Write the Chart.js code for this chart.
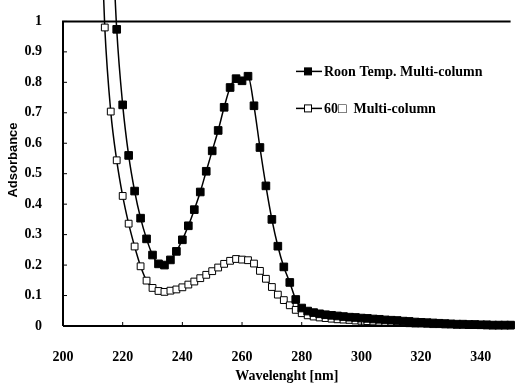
<!DOCTYPE html>
<html>
<head>
<meta charset="utf-8">
<script src="https://cdn.jsdelivr.net/npm/chart.js@4"></script>
<style>
  html, body { margin: 0; padding: 0; background: #fff; }
  #wrap { width: 517px; height: 383px; }
</style>
</head>
<body>
<div id="wrap"><canvas id="absChart" width="517" height="383"></canvas></div>
<script>
// Wavelength grid [nm]
const wavelengths = [212,214,216,218,220,222,224,226,228,230,232,234,236,238,240,242,244,246,248,250,
    252,254,256,258,260,262,264,266,268,270,272,274,276,278,280,282,284,286,288,290,
    292,294,296,298,300,302,304,306,308,310,312,314,316,318,320,322,324,326,328,330,
    332,334,336,338,340,342,344,346,348,350];

// Room temperature multi-column (filled squares)
const roomTemp = [null,null,1.40,0.974,0.726,0.56,0.443,0.354,0.286,0.233,0.204,0.200,0.217,0.245,0.283,0.329,0.382,0.44,0.508,0.575,
    0.642,0.718,0.783,0.812,0.805,0.82,0.723,0.586,0.46,0.35,0.262,0.194,0.143,0.087,0.059,0.049,0.044,0.040,0.037,0.035,
    0.033,0.031,0.029,0.028,0.026,0.025,0.023,0.022,0.020,0.019,0.018,0.016,0.015,0.013,0.012,0.011,0.010,0.009,0.008,0.007,
    0.006,0.006,0.005,0.005,0.004,0.004,0.003,0.003,0.003,0.003];

// 60 deg multi-column (open squares)
const hot60 = [1.5,0.98,0.704,0.544,0.427,0.336,0.261,0.196,0.149,0.125,0.115,0.112,0.116,0.12,0.127,0.136,0.146,0.157,0.168,0.18,
    0.192,0.204,0.214,0.22,0.218,0.216,0.205,0.181,0.155,0.128,0.103,0.085,0.068,0.053,0.042,0.035,0.031,0.028,0.026,0.024,
    0.022,0.021,0.020,0.018,0.017,0.016,0.015,0.014,0.013,0.012,0.011,0.010,0.009,0.008,0.008,0.007,0.006,0.006,0.005,0.005,
    0.004,0.004,0.003,0.003,0.003,0.002,0.002,0.002,0.002,0.002];

const seriesLabels = ['Roon Temp. Multi-column', '60\u25A1  Multi-column'];
const xTitle = 'Wavelenght [nm]';
const yTitle = 'Adsorbance';

const toPoints = vals => wavelengths.map((w, i) => ({ x: w, y: vals[i] })).filter(p => p.y !== null);

const serif = "'Liberation Serif', 'Times New Roman', serif";

// frame, inward ticks, legend and axis titles
const decorPlugin = {
    id: 'decor',
    afterDatasetsDraw(chart) {
        const { ctx, chartArea: a, scales } = chart;
        ctx.save();
        ctx.strokeStyle = '#000';
        ctx.lineWidth = 2;
        ctx.beginPath();
        ctx.moveTo(a.left, a.bottom);
        ctx.lineTo(a.left, a.top);
        ctx.lineTo(a.right, a.top);
        ctx.moveTo(a.left, a.bottom);
        ctx.lineTo(a.right, a.bottom);
        ctx.stroke();

        ctx.lineWidth = 1;
        ctx.beginPath();
        scales.y.ticks.forEach(t => {
            const y = scales.y.getPixelForValue(t.value);
            ctx.moveTo(a.left, y); ctx.lineTo(a.left + 4, y);
        });
        scales.x.ticks.forEach(t => {
            const x = scales.x.getPixelForValue(t.value);
            ctx.moveTo(x, a.bottom); ctx.lineTo(x, a.bottom - 4);
        });
        ctx.stroke();

        // legend
        chart.data.datasets.forEach((ds, i) => {
            const y = a.top + 50 + i * 37;
            const lx = a.left + 233;
            ctx.lineWidth = 1.5;
            ctx.beginPath();
            ctx.moveTo(lx, y); ctx.lineTo(lx + 26, y);
            ctx.stroke();
            ctx.fillStyle = ds.pointBackgroundColor;
            ctx.lineWidth = 1;
            ctx.fillRect(lx + 8.5, y - 3.5, 7, 7);
            ctx.strokeRect(lx + 8.5, y - 3.5, 7, 7);
            ctx.fillStyle = '#000';
            ctx.font = 'bold 14px ' + serif;
            ctx.textBaseline = 'middle';
            ctx.textAlign = 'left';
            ctx.fillText(ds.label, lx + 28, y + 1);
        });

        // axis titles
        ctx.fillStyle = '#000';
        ctx.font = 'bold 14px ' + serif;
        ctx.textAlign = 'center';
        ctx.textBaseline = 'middle';
        ctx.fillText(xTitle, (a.left + a.right) / 2, 376);
        ctx.translate(13, 160);
        ctx.rotate(-Math.PI / 2);
        ctx.font = "bold 13px 'Liberation Sans', Arial, sans-serif";
        ctx.fillText(yTitle, 0, 0);
        ctx.restore();
    }
};

new Chart(document.getElementById('absChart'), {
    type: 'line',
    data: {
        datasets: [{
            label: seriesLabels[0],
            data: toPoints(roomTemp),
            borderColor: '#000',
            borderWidth: 1.5,
            pointStyle: 'rect',
            pointRadius: 5.4,
            pointBorderWidth: 1,
            pointBorderColor: '#000',
            pointBackgroundColor: '#000',
            cubicInterpolationMode: 'monotone',
            clip: false
        }, {
            label: seriesLabels[1],
            data: toPoints(hot60),
            borderColor: '#000',
            borderWidth: 1.5,
            pointStyle: 'rect',
            pointRadius: 4.8,
            pointBorderWidth: 1,
            pointBorderColor: '#000',
            pointBackgroundColor: '#fff',
            cubicInterpolationMode: 'monotone',
            clip: false
        }]
    },
    options: {
        responsive: false,
        animation: false,
        layout: { padding: { top: 17, right: 3, left: 0, bottom: 0 } },
        plugins: { legend: { display: false }, tooltip: { enabled: false } },
        scales: {
            x: {
                type: 'linear',
                min: 200, max: 350,
                grid: { display: false },
                border: { display: false },
                ticks: { stepSize: 20, includeBounds: false, color: '#000', padding: 15, maxRotation: 0,
                         font: { family: serif, size: 14, weight: 'bold' } },
                afterFit: s => { s.height = 57; }
            },
            y: {
                min: 0, max: 1,
                grid: { display: false },
                border: { display: false },
                ticks: { stepSize: 0.1, color: '#000', padding: 13,
                         callback: v => String(Math.round(v * 10) / 10),
                         font: { family: serif, size: 14, weight: 'bold' } },
                afterFit: s => { s.width = 63; }
            }
        }
    },
    plugins: [decorPlugin]
});
</script>
</body>
</html>
